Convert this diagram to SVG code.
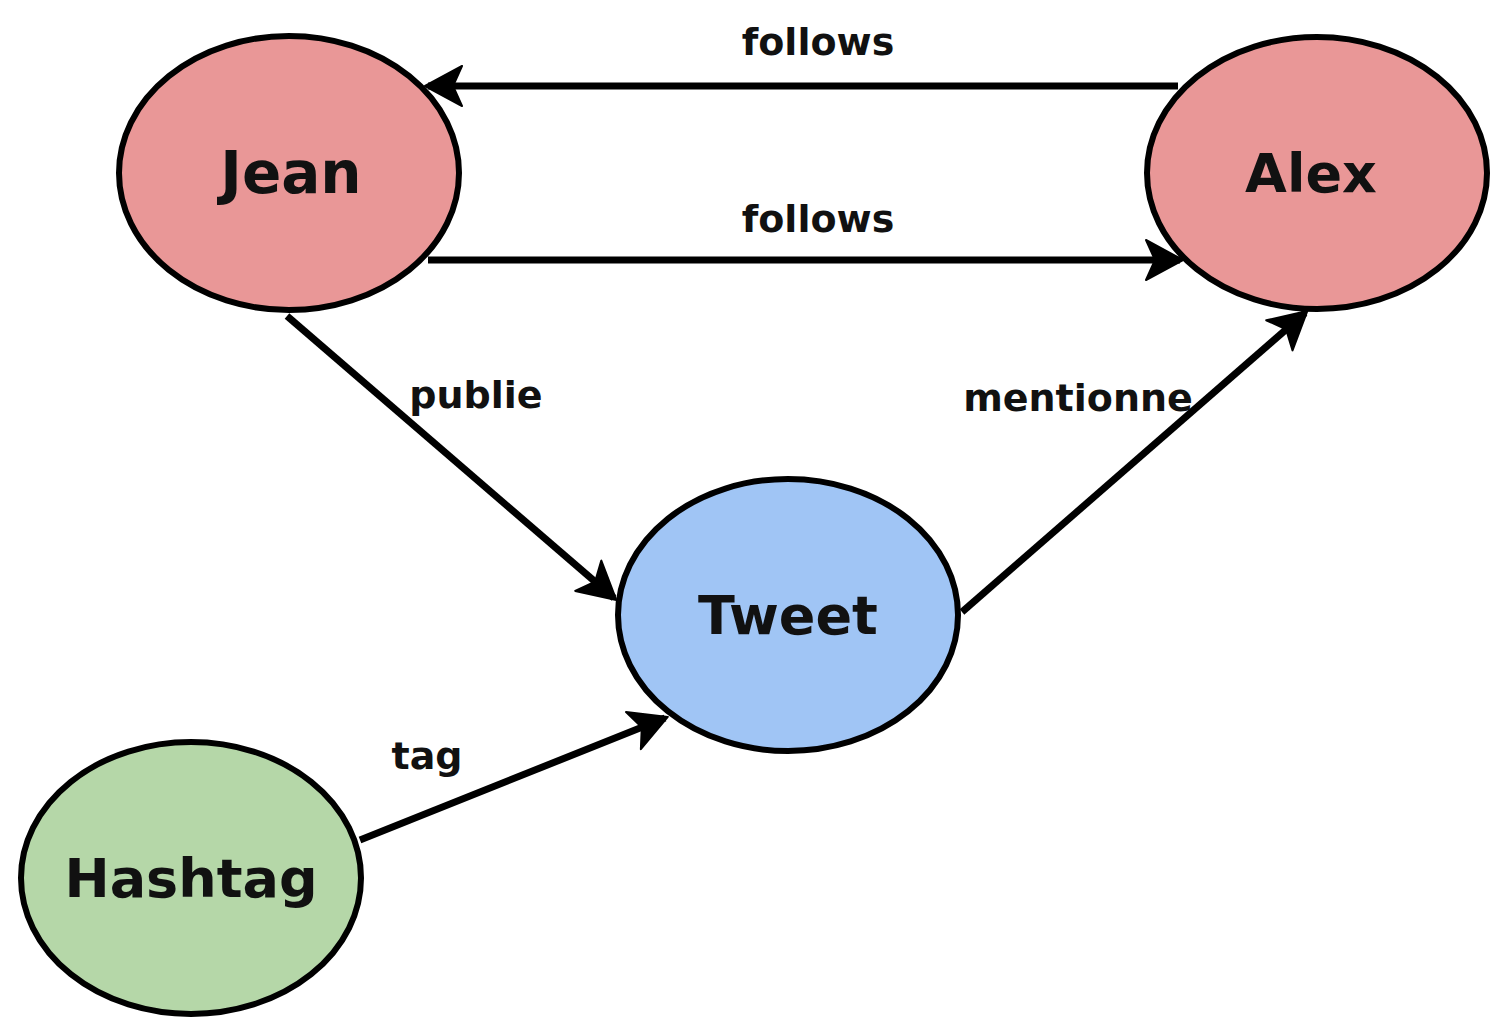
<svg xmlns="http://www.w3.org/2000/svg" width="1499" height="1023" viewBox="0 0 1499 1023">
<style>
.node{stroke:#000;stroke-width:6}
.nl{font-family:"DejaVu Sans",sans-serif;font-weight:bold;font-size:54px;text-anchor:middle;fill:#111}
.el{font-family:"DejaVu Sans",sans-serif;font-weight:bold;font-size:38px;text-anchor:middle;fill:#111}
.edge{stroke:#000;stroke-width:7;fill:none;marker-end:url(#ah)}
</style>
<defs>
<marker id="ah" markerUnits="userSpaceOnUse" viewBox="-44 -24 48 48" refX="0" refY="0" markerWidth="48" markerHeight="48" orient="auto">
<path d="M3 0 L-34 -20 L-25 0 L-34 20 Z" fill="#000" stroke="#000" stroke-width="2" stroke-linejoin="round"/>
</marker>
</defs>
<rect width="1499" height="1023" fill="#fff"/>
<g id="edges">
<line class="edge" x1="1178" y1="86" x2="428" y2="86"/>
<line class="edge" x1="428" y1="260" x2="1180" y2="260"/>
<line class="edge" x1="287" y1="316" x2="614" y2="598"/>
<line class="edge" x1="962" y1="612" x2="1305" y2="313"/>
<line class="edge" x1="360" y1="840" x2="665" y2="718"/>
<text class="el" x="818" y="55">follows</text>
<text class="el" x="818" y="232">follows</text>
<text class="el" x="476" y="408">publie</text>
<text class="el" x="1078" y="411">mentionne</text>
<text class="el" x="427" y="769">tag</text>
</g>
<g id="jean"><ellipse class="node" cx="289" cy="173" rx="170" ry="137" fill="#E99797"/><text class="nl" x="291" y="193" style="font-size:58px">Jean</text></g>
<g id="alex"><ellipse class="node" cx="1317" cy="173" rx="170" ry="136" fill="#E99797"/><text class="nl" x="1311" y="192">Alex</text></g>
<g id="tweet"><ellipse class="node" cx="788" cy="615" rx="170" ry="136" fill="#A0C5F5"/><text class="nl" x="788" y="634">Tweet</text></g>
<g id="hashtag"><ellipse class="node" cx="191" cy="878" rx="170" ry="136" fill="#B5D7A8"/><text class="nl" x="191" y="897">Hashtag</text></g>
</svg>
